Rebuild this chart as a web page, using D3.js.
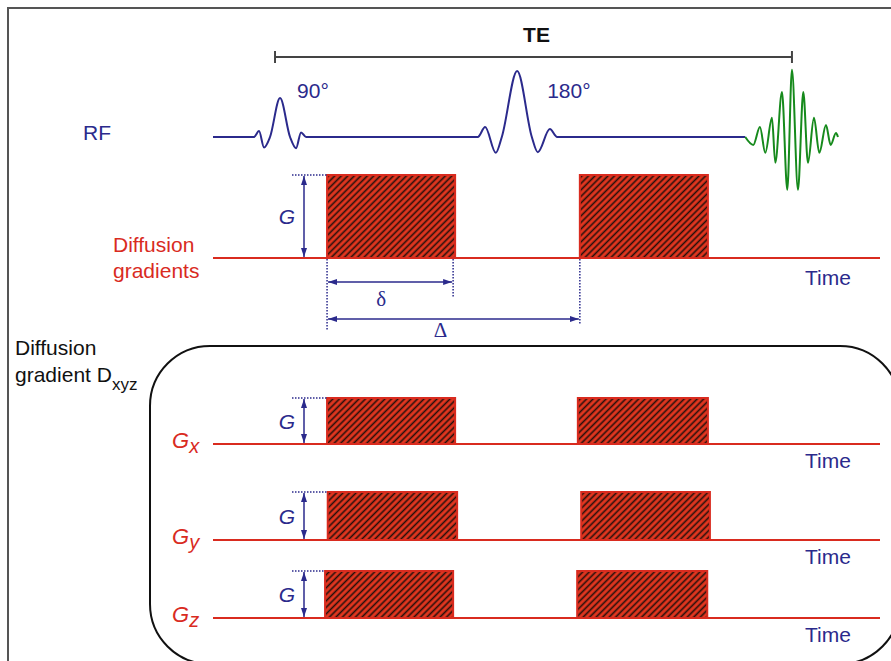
<!DOCTYPE html>
<html lang="en">
<head>
<meta charset="utf-8">
<title>Diffusion gradients - spin echo</title>
<script src="https://cdn.jsdelivr.net/npm/d3@7"></script>
<style>
  body { margin: 0; background: #fff; }
  text { font-family: "Liberation Sans", Arial, sans-serif; }
</style>
</head>
<body>
<div id="seq"></div>
<script>
// time in ms (arbitrary units), amplitudes normalised (180 pulse = 1, G = 1)
var teSpan = [9.3, 86.8];
var rfFlat = [0, 79.8];
var pulse90 = [[6.15, 0], [6.9, 0.09], [7.65, -0.16], [8.55, 0], [10.05, 0.59], [11.55, 0], [12.45, -0.17], [13.2, 0.07], [13.95, 0]];
var pulse180 = [[39.7, 0], [40.8, 0.15], [42.4, -0.24], [43.3, 0], [45.6, 1.0], [47.8, 0], [48.7, -0.23], [50.5, 0.12], [51.6, 0]];
var echo = [[79.8, 0], [81.0, -0.12], [82.0, 0.15], [82.8, -0.24], [83.8, 0.29], [84.3, -0.39], [85.3, 0.68], [86.1, -0.80],
            [86.8, 1.02], [87.7, -0.80], [88.5, 0.68], [89.2, -0.39], [90.1, 0.29], [90.9, -0.24], [91.9, 0.18], [92.6, -0.12],
            [93.4, 0.06], [93.7, 0]];
var pulseNames = ["90°", "180°"];

var rowNames = ["Diffusion gradients", "Gx", "Gy", "Gz"];
var lobeStarts = [[17.1, 55.0], [17.1, 54.7], [17.2, 55.2], [16.8, 54.6]];
var lobeEnds = [[36.3, 74.2], [36.3, 74.2], [36.6, 74.5], [36.0, 74.1]];
var lobeAmp = [1, 1, 1, 1];

// layout
var W = 891, H = 661;
var blue = "#2b2a8c", red = "#d92b1f", green = "#168a1c", fillRed = "#e2361f";
var rfBase = 137, rfUnit = 66;
var rowBase = [258, 444, 540, 618], rowTop = [175, 398, 492, 571];

var svg = d3.select("#seq").append("svg")
  .attr("width", W).attr("height", H);

var defs = svg.append("defs");
var pat = defs.append("pattern")
  .attr("id", "hatch")
  .attr("patternUnits", "userSpaceOnUse")
  .attr("width", 4.6).attr("height", 4.6)
  .attr("patternTransform", "rotate(45)");
pat.append("rect").attr("width", 4.6).attr("height", 4.6).attr("fill", fillRed);
pat.append("line").attr("x1", 2.3).attr("y1", 0).attr("x2", 2.3).attr("y2", 4.6)
  .attr("stroke", "#24100c").attr("stroke-width", 1.6);

defs.append("marker")
  .attr("id", "ah")
  .attr("viewBox", "0 0 9 6")
  .attr("refX", 9).attr("refY", 3)
  .attr("markerWidth", 9).attr("markerHeight", 6)
  .attr("markerUnits", "userSpaceOnUse")
  .attr("orient", "auto-start-reverse")
  .append("path").attr("d", "M0,0L9,3L0,6z").attr("fill", blue);

var x = d3.scaleLinear().domain([0, 100]).range([213, 880]);
var rfY = d3.scaleLinear().domain([-1, 1]).range([rfBase + rfUnit, rfBase - rfUnit]);

// outer frame (top + left only visible)
svg.append("path")
  .attr("d", "M8," + H + "V8H" + W)
  .attr("fill", "none").attr("stroke", "#555").attr("stroke-width", 2);

// TE bracket
var teG = svg.append("g").attr("stroke", "#444").attr("stroke-width", 2);
teG.append("line").attr("x1", x(teSpan[0])).attr("x2", x(teSpan[1]))
  .attr("y1", 57).attr("y2", 57);
teG.selectAll("line.tick").data(teSpan).enter().append("line")
  .attr("class", "tick")
  .attr("x1", function (d) { return x(d); }).attr("x2", function (d) { return x(d); })
  .attr("y1", 51).attr("y2", 63);
svg.append("text").attr("x", x((teSpan[0] + teSpan[1]) / 2) + 3).attr("y", 42)
  .attr("text-anchor", "middle").attr("font-weight", "bold").attr("font-size", 21)
  .attr("fill", "#111").text("TE");

// RF line
var line = d3.line()
  .x(function (d) { return x(d[0]); })
  .y(function (d) { return rfY(d[1]); })
  .curve(d3.curveMonotoneX);

var rfPts = [[rfFlat[0], 0]].concat(pulse90, pulse180, [[rfFlat[1], 0]]);
svg.append("path").datum(rfPts)
  .attr("d", line).attr("fill", "none").attr("stroke", blue).attr("stroke-width", 2);
svg.append("path").datum(echo)
  .attr("d", line).attr("fill", "none").attr("stroke", green).attr("stroke-width", 2);

svg.append("text").attr("x", 83).attr("y", 140).attr("font-size", 21)
  .attr("fill", blue).text("RF");
svg.selectAll("text.flip").data(pulseNames).enter().append("text")
  .attr("class", "flip")
  .attr("x", function (d, i) { return x(i === 0 ? pulse90[4][0] : pulse180[4][0]) + (i === 0 ? 17 : 30); })
  .attr("y", 98).attr("font-size", 21).attr("fill", blue)
  .text(function (d) { return d; });

// rounded box round the x/y/z rows
svg.append("rect")
  .attr("x", 150).attr("y", 346).attr("width", 750).attr("height", 318)
  .attr("rx", 60).attr("ry", 60)
  .attr("fill", "none").attr("stroke", "#111").attr("stroke-width", 2);

svg.append("text").attr("x", 15).attr("y", 355).attr("font-size", 21)
  .attr("fill", "#111").text("Diffusion");
var dxyz = svg.append("text").attr("x", 15).attr("y", 382).attr("font-size", 21).attr("fill", "#111");
dxyz.append("tspan").text("gradient D");
dxyz.append("tspan").attr("font-size", 17).attr("dy", 8).text("xyz");

// gradient rows
rowNames.forEach(function (name, r) {
  var gy = d3.scaleLinear().domain([0, 1]).range([rowBase[r], rowTop[r]]);
  var g = svg.append("g");

  g.append("line").attr("x1", x(0)).attr("x2", x(100))
    .attr("y1", gy(0)).attr("y2", gy(0))
    .attr("stroke", red).attr("stroke-width", 2);

  g.selectAll("rect").data(lobeStarts[r]).enter().append("rect")
    .attr("x", function (d) { return x(d); })
    .attr("y", gy(lobeAmp[r]))
    .attr("width", function (d, i) { return x(lobeEnds[r][i]) - x(d); })
    .attr("height", gy(0) - gy(lobeAmp[r]))
    .attr("fill", "url(#hatch)")
    .attr("stroke", red).attr("stroke-width", 2);

  // G amplitude arrow
  g.append("line").attr("x1", 292).attr("x2", x(lobeStarts[r][0]))
    .attr("y1", gy(lobeAmp[r])).attr("y2", gy(lobeAmp[r]))
    .attr("stroke", blue).attr("stroke-width", 1.5).attr("stroke-dasharray", "1.5,1.5");
  g.append("line").attr("x1", 304).attr("x2", 304)
    .attr("y1", gy(0) - 1).attr("y2", gy(lobeAmp[r]) + 1)
    .attr("stroke", blue).attr("stroke-width", 1.5)
    .attr("marker-start", "url(#ah)").attr("marker-end", "url(#ah)");
  g.append("text").attr("x", 287).attr("y", gy(lobeAmp[r] / 2) + 7.5)
    .attr("text-anchor", "middle").attr("font-size", 21).attr("font-style", "italic")
    .attr("fill", blue).text("G");

  g.append("text").attr("x", 805).attr("y", gy(0) + (r === 0 ? 27 : 24)).attr("font-size", 21)
    .attr("fill", blue).text("Time");

  if (r === 0) {
    var lab = g.append("text").attr("font-size", 21).attr("fill", red);
    lab.append("tspan").attr("x", 113).attr("y", 252).text("Diffusion");
    lab.append("tspan").attr("x", 113).attr("y", 278).text("gradients");
  } else {
    var gl = g.append("text").attr("x", 172).attr("y", gy(0) + 4)
      .attr("font-size", 22).attr("font-style", "italic").attr("fill", red);
    gl.append("tspan").text(name.charAt(0));
    gl.append("tspan").attr("dy", 5).attr("font-size", 20).text(name.charAt(1));
  }
});

// delta / Delta on the first row
var base0 = rowBase[0];
var s0 = lobeStarts[0][0], e0 = lobeEnds[0][0], s1 = lobeStarts[0][1];
var marks = [
  { t: s0, y2: base0 + 72 },
  { t: e0 - 0.3, y2: base0 + 40 },
  { t: s1, y2: base0 + 67 }
];
svg.selectAll("line.guide").data(marks).enter().append("line")
  .attr("class", "guide")
  .attr("x1", function (d) { return x(d.t); }).attr("x2", function (d) { return x(d.t); })
  .attr("y1", base0 + 1).attr("y2", function (d) { return d.y2; })
  .attr("stroke", blue).attr("stroke-width", 1.5).attr("stroke-dasharray", "1.5,1.5");

var spans = [
  { a: s0, b: e0 - 0.3, y: base0 + 24, name: "δ", ty: base0 + 48 },
  { a: s0, b: s1, y: base0 + 61, name: "Δ", ty: base0 + 79 }
];
spans.forEach(function (d) {
  svg.append("line")
    .attr("x1", x(d.a) + 1).attr("x2", x(d.b) - 1)
    .attr("y1", d.y).attr("y2", d.y)
    .attr("stroke", blue).attr("stroke-width", 1.5)
    .attr("marker-start", "url(#ah)").attr("marker-end", "url(#ah)");
  svg.append("text")
    .attr("x", (x(d.a) + x(d.b)) / 2 + (d.name === "δ" ? -9 : -13)).attr("y", d.ty)
    .attr("text-anchor", "middle")
    .style("font-family", "'Liberation Serif', 'DejaVu Serif', serif")
    .attr("font-size", 21).attr("fill", blue).text(d.name);
});
</script>
</body>
</html>
